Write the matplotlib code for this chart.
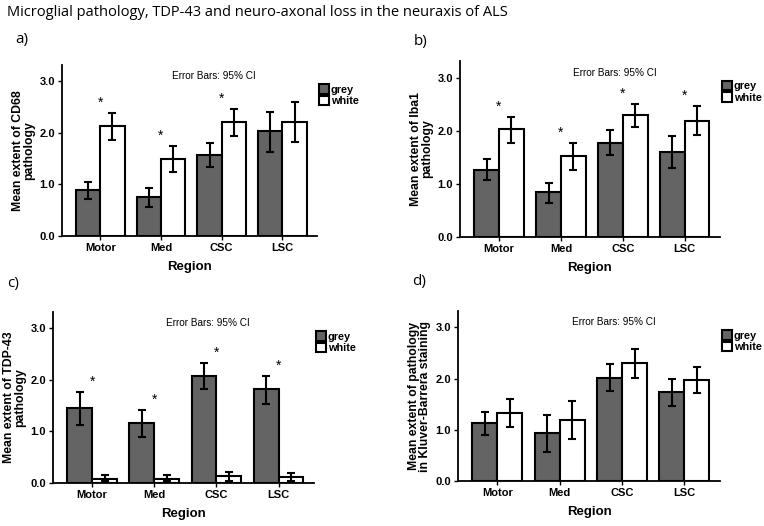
import matplotlib
matplotlib.use("Agg")
import matplotlib.pyplot as plt
import numpy as np

regions = ["Motor", "Med", "CSC", "LSC"]

# a) CD68
cd68_grey = [0.89, 0.75, 1.57, 2.03]
cd68_grey_lo = [0.72, 0.57, 1.34, 1.63]
cd68_grey_hi = [1.05, 0.94, 1.81, 2.41]
cd68_white = [2.13, 1.50, 2.22, 2.22]
cd68_white_lo = [1.86, 1.24, 1.95, 1.83]
cd68_white_hi = [2.39, 1.75, 2.47, 2.61]
cd68_stars = [True, True, True, False]

# b) Iba1
iba1_grey = [1.27, 0.84, 1.78, 1.60]
iba1_grey_lo = [1.07, 0.65, 1.55, 1.31]
iba1_grey_hi = [1.47, 1.01, 2.01, 1.90]
iba1_white = [2.03, 1.52, 2.30, 2.19]
iba1_white_lo = [1.77, 1.26, 2.08, 1.92]
iba1_white_hi = [2.26, 1.77, 2.51, 2.47]
iba1_stars = [True, True, True, True]

# c) TDP-43
tdp_grey = [1.46, 1.16, 2.08, 1.83]
tdp_grey_lo = [1.13, 0.90, 1.82, 1.54]
tdp_grey_hi = [1.77, 1.42, 2.33, 2.08]
tdp_white = [0.08, 0.08, 0.13, 0.12]
tdp_white_lo = [0.03, 0.03, 0.04, 0.03]
tdp_white_hi = [0.16, 0.16, 0.21, 0.20]
tdp_stars = [True, True, True, True]

# d) Kluver-Barrera
kb_grey = [1.13, 0.93, 2.02, 1.73]
kb_grey_lo = [0.89, 0.57, 1.75, 1.46]
kb_grey_hi = [1.35, 1.29, 2.28, 1.99]
kb_white = [1.33, 1.20, 2.30, 1.98]
kb_white_lo = [1.06, 0.82, 2.01, 1.71]
kb_white_hi = [1.60, 1.56, 2.58, 2.23]
kb_stars = [False, False, False, False]

ylabels = ["Mean extent of CD68\npathology",
           "Mean extent of Iba1\npathology",
           "Mean extent of TDP-43\npathology",
           "Mean extent of pathology\nin Kluver-Barrera staining"]

GREY = "#646464"
FONT = "Liberation Sans"

fig = plt.figure(figsize=(7.64, 5.26), dpi=100)

# axes rectangles in pixels: left, right, bottom, top
W, H = 764, 526
boxes = [(62, 317, 236, 65), (460, 720, 237, 61),
         (53, 314, 483, 312), (458, 720, 481, 311)]
panels = [
    (cd68_grey, cd68_grey_lo, cd68_grey_hi, cd68_white, cd68_white_lo, cd68_white_hi, cd68_stars),
    (iba1_grey, iba1_grey_lo, iba1_grey_hi, iba1_white, iba1_white_lo, iba1_white_hi, iba1_stars),
    (tdp_grey, tdp_grey_lo, tdp_grey_hi, tdp_white, tdp_white_lo, tdp_white_hi, tdp_stars),
    (kb_grey, kb_grey_lo, kb_grey_hi, kb_white, kb_white_lo, kb_white_hi, kb_stars),
]

x = np.arange(len(regions))
bw = 0.4

for i, (box, data) in enumerate(zip(boxes, panels)):
    l, r, b, t = box
    ax = fig.add_axes([l / W, 1 - b / H, (r - l) / W, (b - t) / H])
    g, glo, ghi, w, wlo, whi, stars = data
    g = np.array(g); w = np.array(w)
    gerr = [g - np.array(glo), np.array(ghi) - g]
    werr = [w - np.array(wlo), np.array(whi) - w]
    ax.bar(x - bw / 2, g, bw, color=GREY, edgecolor="black", linewidth=1.5,
           yerr=gerr, capsize=2.6, error_kw=dict(elinewidth=1.5, capthick=1.5),
           label="grey")
    ax.bar(x + bw / 2, w, bw, color="white", edgecolor="black", linewidth=1.5,
           yerr=werr, capsize=2.6, error_kw=dict(elinewidth=1.5, capthick=1.5),
           label="white")
    for k in range(len(regions)):
        if stars[k]:
            top = max(ghi[k], whi[k])
            ax.text(x[k], top + 0.2, "*", ha="center", va="center",
                    fontsize=10, family=FONT)

    ax.set_xlim(-0.63, 3.57)
    ax.set_ylim(0, 3.32)
    ax.set_yticks([0, 1, 2, 3])
    ax.set_yticklabels(["0.0", "1.0", "2.0", "3.0"])
    ax.set_xticks(x)
    ax.set_xticklabels(regions)
    for lab in ax.get_xticklabels() + ax.get_yticklabels():
        lab.set_fontweight("bold")
        lab.set_family(FONT)
        lab.set_fontsize(8)
    ax.tick_params(axis="both", length=3, width=1, pad=2)
    ax.spines["top"].set_visible(False)
    ax.spines["right"].set_visible(False)
    ax.spines["left"].set_linewidth(1.3)
    ax.spines["bottom"].set_linewidth(1.3)
    ax.set_xlabel("Region", fontsize=9.5, fontweight="bold", family=FONT, labelpad=6)
    ax.set_ylabel(ylabels[i], fontsize=8.8, fontweight="bold", family=FONT,
                  labelpad=3, linespacing=0.95)
    ax.text(1.87, 3.1, "Error Bars: 95% CI", ha="center", va="center",
            fontsize=7.2, family=FONT)
    ax.legend(loc="upper left", bbox_to_anchor=(1.0, 0.9), frameon=False,
              prop=dict(family=FONT, weight="bold", size=7.8),
              handlelength=0.95, handleheight=0.95, handletextpad=0.1,
              labelspacing=0.12, borderpad=0, borderaxespad=0.2)

fig.text(7 / W, 1 - 12 / H, "Microglial pathology, TDP-43 and neuro-axonal loss in the neuraxis of ALS",
         fontsize=10.5, family="Open Sans", va="center", ha="left")
for lab, (px, py) in zip(["a)", "b)", "c)", "d)"], [(15, 40), (414, 42), (7, 284), (412, 282)]):
    fig.text(px / W, 1 - py / H, lab, fontsize=11, family="Open Sans", va="center", ha="left")

fig.savefig("out.png", dpi=100)
